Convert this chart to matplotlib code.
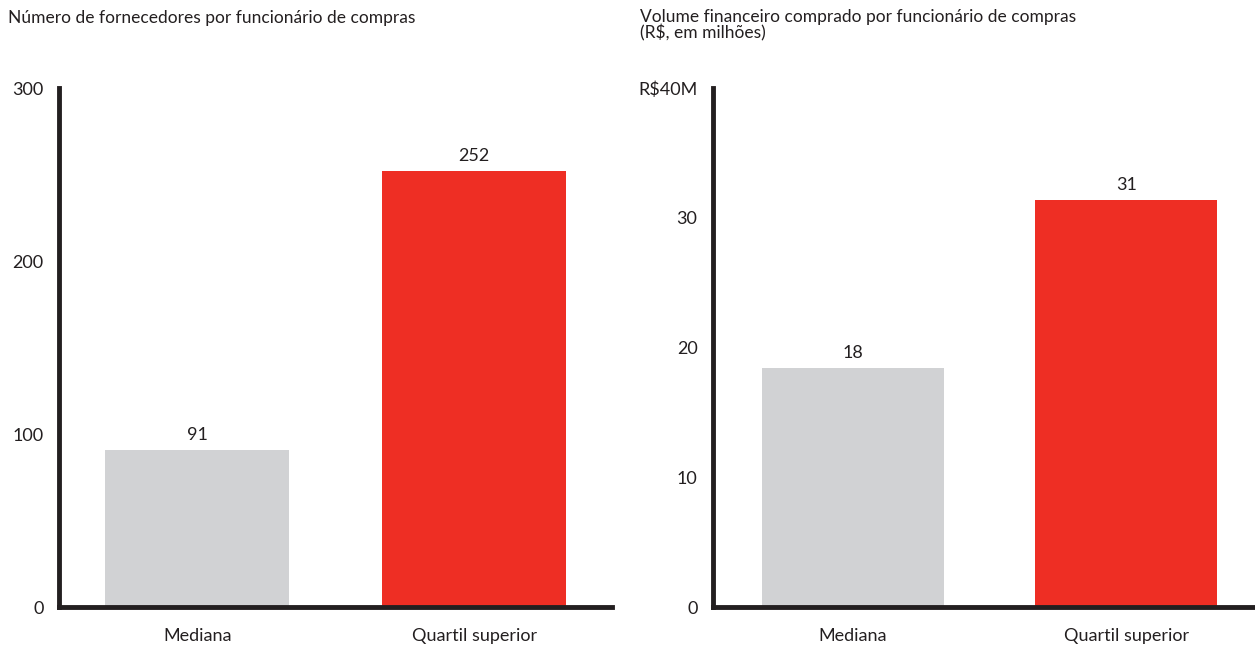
import matplotlib.pyplot as plt
import numpy as np

plt.rcParams['font.family'] = ['Lato', 'DejaVu Sans']

categories = ['Mediana', 'Quartil superior']
fornecedores = [91, 252]
volume = [18.4, 31.4]
colors = ['#D1D2D4', '#EE2E24']
ink = '#231F20'

W, H = 1255, 648
fig = plt.figure(figsize=(W / 100, H / 100), dpi=100)
ax1 = fig.add_axes([0.047, 0.063, 0.441, 0.801])
ax2 = fig.add_axes([0.568, 0.063, 0.432, 0.801])

def draw(ax, values, ymax, ticks, ticklabels, xlim):
  x = np.arange(len(categories))
  bars = ax.bar(x, values, width=0.665, color=colors)
  for b, v in zip(bars, values):
    ax.annotate('%.0f' % v, (b.get_x() + b.get_width() / 2, v),
                xytext=(0, 5), textcoords='offset points',
                ha='center', va='bottom', fontsize=13, color=ink)
  ax.set_xlim(*xlim)
  ax.set_ylim(0, ymax)
  ax.set_xticks(x, categories)
  ax.set_yticks(ticks, ticklabels)
  ax.tick_params(length=0, labelsize=13, colors=ink)
  ax.tick_params(axis='x', pad=15)
  ax.tick_params(axis='y', pad=11)
  for s in ['top', 'right']:
    ax.spines[s].set_visible(False)
  for s in ['left', 'bottom']:
    ax.spines[s].set_linewidth(3.5)
    ax.spines[s].set_color(ink)
    ax.spines[s].set_capstyle('projecting')

draw(ax1, fornecedores, 300, [0, 100, 200, 300], ['0', '100', '200', '300'], (-0.5, 1.5))
draw(ax2, volume, 40, [0, 10, 20, 30, 40], ['0', '10', '20', '30', 'R$40M'], (-0.512, 1.47))

fig.text(8 / W, 1 - 18 / H, 'Número de fornecedores por funcionário de compras',
         ha='left', va='center', fontsize=12.5, color=ink)
fig.text(640 / W, 1 - 17 / H, 'Volume financeiro comprado por funcionário de compras',
         ha='left', va='center', fontsize=12.5, color=ink)
fig.text(640 / W, 1 - 33 / H, '(R$, em milhões)',
         ha='left', va='center', fontsize=12.5, color=ink)

plt.savefig('out.png', dpi=100)
